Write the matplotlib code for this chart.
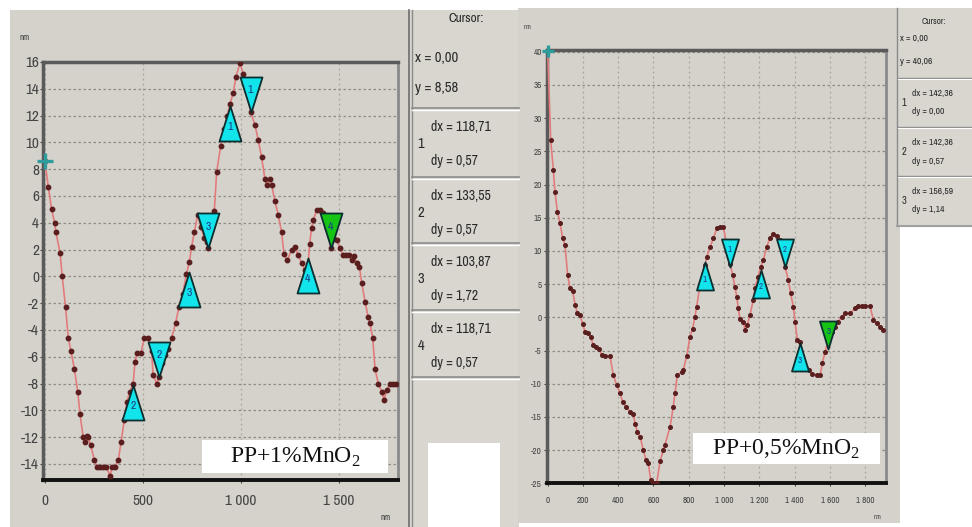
import matplotlib
matplotlib.use("Agg")
import matplotlib.pyplot as plt
from matplotlib import font_manager as fm
from matplotlib.path import Path
from matplotlib.patches import Rectangle
from matplotlib.ticker import FixedLocator, FuncFormatter

# ---- data ----
left_x = [0, 17, 34, 49, 56, 77, 88, 105, 119, 133, 150, 167, 179, 195, 204, 213,
          221, 233, 252, 265, 281, 297, 312, 332, 342, 358, 374, 388, 405, 418, 433,
          450, 459, 471, 490, 507, 527, 544, 552, 570, 583, 595, 612, 629, 646, 667,
          684, 703, 722, 737, 748, 762, 779, 795, 812, 825, 833, 848, 864, 876, 896,
          915, 930, 944, 961, 974, 995, 1012, 1030, 1049, 1071, 1088, 1105, 1122, 1131,
          1148, 1157, 1173, 1190, 1207, 1219, 1236, 1259, 1276, 1292, 1309, 1326, 1338,
          1350, 1360, 1369, 1386, 1403, 1420, 1440, 1459, 1476, 1488, 1505, 1520, 1535,
          1550, 1565, 1576, 1590, 1604, 1616, 1633, 1648, 1658, 1672, 1684, 1700, 1718,
          1730, 1743, 1760, 1775, 1790]
left_y = [8.58, 6.7, 5.0, 4.0, 3.3, 1.75, 0.0, -2.3, -4.6, -5.6, -6.9, -8.6, -10.3, -12.0, -12.4, -11.9,
          -12.0, -12.6, -13.7, -14.2, -14.2, -14.2, -14.2, -14.9, -14.2, -14.2, -13.7, -12.4, -10.7, -9.35, -8.6,
          -8.0, -6.4, -5.7, -5.7, -4.6, -4.6, -5.6, -7.4, -8.0, -7.5, -6.5, -5.9, -5.4, -4.6, -3.45,
          -2.26, -1.3, 0.2, 1.1, 2.2, 3.3, 4.6, 3.7, 2.9, 2.6, 2.1, 3.6, 4.9, 7.8, 9.7,
          11.0, 12.0, 12.9, 13.7, 14.9, 15.9, 15.1, 13.8, 12.3, 11.3, 10.2, 8.9, 7.3, 6.8,
          7.3, 6.8, 5.6, 4.6, 3.3, 1.7, 1.2, 2.0, 2.2, 1.6, 1.0, 0.5, 0.1,
          2.4, 3.6, 4.2, 4.95, 4.95, 4.7, 3.6, 2.1, 2.8, 2.7, 2.1, 1.6, 1.6,
          1.6, 1.2, 1.55, 1.0, 0.7, -0.5, -1.9, -3.0, -3.5, -4.6, -6.9, -8.0, -8.6,
          -9.2, -8.5, -8.0, -8.0, -8.0]

right_x = [0, 17, 32, 41, 55, 70, 85, 98, 113, 126, 142, 155, 168, 183, 198, 212, 230,
           244, 259, 274, 291, 306, 325, 353, 372, 391, 410, 425, 444, 467, 486, 495,
           508, 524, 542, 558, 571, 584, 595, 607, 618, 637, 656, 665, 694, 712, 722,
           735, 760, 769, 788, 807, 822, 835, 845, 864, 880, 893, 902, 921, 940, 959,
           977, 996, 1015, 1034, 1049, 1062, 1072, 1081, 1091, 1110, 1119, 1132, 1147,
           1166, 1176, 1192, 1208, 1223, 1242, 1261, 1280, 1299, 1318, 1332, 1346, 1365,
           1378, 1393, 1403, 1416, 1431, 1441, 1465, 1484, 1497, 1526, 1545, 1558, 1573,
           1592, 1611, 1630, 1648, 1668, 1686, 1715, 1743, 1762, 1781, 1800, 1828, 1847,
           1866, 1885, 1904]
right_y = [40.06, 26.7, 22.2, 18.9, 15.9, 14.2, 11.9, 10.9, 6.4, 4.4, 3.9, 1.9, 0.6, 0.35, -1.0, -2.2, -2.4,
           -3.0, -4.2, -4.5, -4.7, -5.7, -5.8, -5.8, -8.7, -10.2, -11.4, -12.7, -13.5, -14.2, -14.5, -16.0,
           -17.2, -18.0, -20.0, -21.5, -22.0, -24.5, -25.0, -25.0, -25.0, -21.7, -20.0, -19.2, -16.5, -13.5, -11.4,
           -8.7, -8.2, -7.9, -5.9, -2.9, -1.7, 0.1, 1.6, 4.9, 6.5, 7.9, 9.1, 10.6, 11.9, 13.4,
           13.6, 13.6, 11.0, 8.1, 6.4, 4.6, 3.1, 1.35, -0.3, -0.66, -1.9, -1.2, 0.35,
           2.6, 4.4, 6.0, 7.6, 8.6, 10.6, 12.0, 12.6, 12.3, 11.6, 9.8, 7.6, 5.6,
           3.6, 1.6, -0.7, -3.4, -3.7, -5.9, -7.7, -7.9, -8.5, -8.7, -8.7, -6.9, -5.2,
           -3.4, -2.2, -1.4, -0.66, 0.1, 0.6, 0.6, 1.35, 1.7, 1.7, 1.7, 1.7, -0.4,
           -0.9, -1.4, -1.9]

# cursor triangles (apex / tip on the profile)
left_tri_x = [944, 1049, 450, 583, 736, 833, 1340, 1459]
left_tri_y = [12.7, 12.3, -8.1, -7.5, 0.35, 2.1, 1.4, 2.1]
left_tri_up = [True, False, True, False, True, False, True, False]
left_tri_lab = ["1", "1", "2", "2", "3", "3", "4", "4"]
left_tri_green = [False] * 7 + [True]

right_tri_x = [893, 1034, 1210, 1346, 1431, 1592]
right_tri_y = [8.3, 7.6, 7.1, 7.6, -3.9, -4.7]
right_tri_up = [True, False, True, False, True, False]
right_tri_lab = ["1", "1", "2", "2", "3", "3"]
right_tri_green = [False] * 5 + [True]

left_xticks = [0, 500, 1000, 1500]
left_yticks = list(range(-14, 17, 2))
right_xticks = list(range(0, 1801, 200))
right_yticks = list(range(-25, 41, 5))

left_cursor = ["x = 0,00", "y = 8,58"]
left_rows = [("1", "dx = 118,71", "dy = 0,57"), ("2", "dx = 133,55", "dy = 0,57"),
             ("3", "dx = 103,87", "dy = 1,72"), ("4", "dx = 118,71", "dy = 0,57")]
right_cursor = ["x = 0,00", "y = 40,06"]
right_rows = [("1", "dx = 142,36", "dy = 0,00"), ("2", "dx = 142,36", "dy = 0,57"),
              ("3", "dx = 156,59", "dy = 1,14")]


# ---- fonts: want a narrow sans like the old windows UI ----
def pick_narrow():
    for f in fm.fontManager.ttflist:
        n = f.name.lower()
        if ("narrow" in n or "condensed" in n) and "mono" not in n and "serif" not in n:
            return f.name, f.stretch, 1.0
    for f in fm.fontManager.ttflist:
        if str(f.stretch) in ("condensed", "semi-condensed", "extra-condensed") \
                and "Mono" not in f.name and "Serif" not in f.name:
            return f.name, f.stretch, 1.0
    return "Roboto", "normal", 0.86


NARROW, STRETCH, FS = pick_narrow()
plt.rcParams["mathtext.fontset"] = "custom"
plt.rcParams["mathtext.rm"] = "Liberation Serif"

GRAY = "#D5D2CC"
LINE = "#E27C7C"
DOT = "#5A1E1E"
CYAN = "#12E4EC"
GREEN = "#16C416"
TEAL = "#2E9C9C"
TXT = "#2A2A2A"

W, H = 972, 527
fig = plt.figure(figsize=(W / 100, H / 100), dpi=100)


def ntext(ax, x, y, s, size, **kw):
    ax.text(x, y, s, fontsize=size * FS, family=NARROW, fontstretch=STRETCH,
            color=kw.pop("color", TXT), va="center", **kw)


# background panels drawn in pixel space
bg = fig.add_axes([0, 0, 1, 1], zorder=0)
bg.set_xlim(0, W)
bg.set_ylim(H, 0)
bg.axis("off")
bg.add_patch(Rectangle((10, 10), 400, 517, fc=GRAY, ec="none"))
bg.add_patch(Rectangle((410, 10), 109, 517, fc="#D9D6D0", ec="none"))
bg.add_patch(Rectangle((428, 443), 72, 84, fc="white", ec="none"))
bg.plot([409, 409], [10, 527], color="#6E6E6E", lw=1.2)
bg.plot([411.5, 411.5], [10, 527], color="#8A8A8A", lw=1)
for yy in [108, 177, 243, 310, 377]:
    bg.plot([412, 519], [yy, yy], color="#8C8C8C", lw=1.2)
    bg.plot([412, 519], [yy + 1.5, yy + 1.5], color="white", lw=1)
bg.add_patch(Rectangle((518, 8), 382, 515, fc=GRAY, ec="none"))
bg.add_patch(Rectangle((897, 8), 75, 218, fc="#D9D6D0", ec="none"))
bg.plot([897, 897], [8, 226], color="#8A8A8A", lw=1)
bg.plot([897, 972], [226, 226], color="#A0A0A0", lw=1.5)
for yy in [78, 127, 176]:
    bg.plot([898, 972], [yy, yy], color="#8C8C8C", lw=1)
    bg.plot([898, 972], [yy + 1.3, yy + 1.3], color="white", lw=0.8)

# cursor panels text
ntext(bg, 466, 19, "Cursor:", 9.5, ha="center")
ntext(bg, 415, 58, left_cursor[0], 10.5, ha="left")
ntext(bg, 415, 88, left_cursor[1], 10.5, ha="left")
for (num, dx, dy), top in zip(left_rows, [108, 177, 243, 310]):
    ntext(bg, 421, top + 36, num, 10.5, ha="center")
    ntext(bg, 431, top + 19, dx, 10, ha="left")
    ntext(bg, 431, top + 53, dy, 10, ha="left")

ntext(bg, 934, 21, "Cursor:", 6.5, ha="center")
ntext(bg, 900, 38, right_cursor[0], 6.8, ha="left")
ntext(bg, 900, 61, right_cursor[1], 6.8, ha="left")
for (num, dx, dy), top in zip(right_rows, [78, 127, 176]):
    ntext(bg, 904, top + 25, num, 7.5, ha="center")
    ntext(bg, 912, top + 15, dx, 6.8, ha="left")
    ntext(bg, 912, top + 34, dy, 6.8, ha="left")

# axis unit labels
ntext(bg, 25, 37, "nm", 6.5, ha="center", color="#444")
ntext(bg, 386, 517, "nm", 6.5, ha="center", color="#444")
ntext(bg, 528, 27, "nm", 5, ha="center", color="#444")
ntext(bg, 878, 517, "nm", 5, ha="center", color="#444")


def tri_path(w, h, up):
    if up:
        v = [(0, 0), (-w / 2, -h), (w / 2, -h), (0, 0)]
    else:
        v = [(0, 0), (-w / 2, h), (w / 2, h), (0, 0)]
    return Path(v, [Path.MOVETO, Path.LINETO, Path.LINETO, Path.CLOSEPOLY])


def style_axes(ax, xticks, yticks, lsize, xpad, ypad):
    ax.set_facecolor(GRAY)
    ax.xaxis.set_major_locator(FixedLocator(xticks))
    ax.yaxis.set_major_locator(FixedLocator(yticks))
    ax.xaxis.set_major_formatter(FuncFormatter(lambda v, p: f"{int(v):,}".replace(",", " ")))
    ax.yaxis.set_major_formatter(FuncFormatter(lambda v, p: f"{int(v)}"))
    ax.tick_params(axis="x", length=2, pad=xpad, labelsize=lsize * FS, colors="#444", width=0.8)
    ax.tick_params(axis="y", length=2, pad=ypad, labelsize=lsize * FS, colors="#444", width=0.8)
    for lab in ax.get_xticklabels() + ax.get_yticklabels():
        lab.set_family(NARROW)
        lab.set_fontstretch(STRETCH)
    ax.grid(True, axis="y", color="#8F8C86", linestyle=(0, (2, 2)), lw=0.9)
    ax.grid(True, axis="x", color="#A8A59F", linestyle=(0, (1.5, 2.5)), lw=0.9)
    ax.set_axisbelow(True)
    ax.spines["top"].set_color("#5A5A5A")
    ax.spines["left"].set_color("#5A5A5A")
    ax.spines["bottom"].set_color("#111111")
    ax.spines["right"].set_color("#8A8A8A")
    ax.spines["top"].set_linewidth(2.5)
    ax.spines["left"].set_linewidth(2.5)
    ax.spines["bottom"].set_linewidth(2.8)
    ax.spines["right"].set_linewidth(2)


def draw_profile(ax, xs, ys, tx, ty, tup, tlab, tgreen, tw, th, nsize, dot_ms):
    ax.plot(xs, ys, color=LINE, lw=1.2, zorder=3)
    ax.plot(xs, ys, linestyle="none", marker="o", ms=dot_ms, color=DOT, zorder=4)
    for x, y, up, lab, g in zip(tx, ty, tup, tlab, tgreen):
        ax.plot([x], [y], linestyle="none", marker=tri_path(tw, th, up), ms=1.44 * th,
                mfc=GREEN if g else CYAN, mec="#0B2F2F", mew=1.3, zorder=5, clip_on=False)
        off = -0.6 * th * 0.72 if up else 0.62 * th * 0.72
        ax.annotate(lab, (x, y), xytext=(0, off), textcoords="offset points",
                    ha="center", va="center", fontsize=nsize * FS, family=NARROW,
                    fontstretch=STRETCH, color="#1B3C8C", zorder=6)
    ax.plot([xs[0]], [ys[0]], marker="+", ms=12 if th > 30 else 9, mew=2.4,
            color=TEAL, zorder=6, clip_on=False)


# left profile
ax1 = fig.add_axes([43 / W, 1 - 480 / H, 355 / W, 418 / H], zorder=2)
style_axes(ax1, left_xticks, left_yticks, 11, 8, 0.8)
ax1.set_xlim(-10, 1801)
ax1.set_ylim(-15.2, 16)
draw_profile(ax1, left_x, left_y, left_tri_x, left_tri_y, left_tri_up, left_tri_lab,
             left_tri_green, 22, 35, 8.5, 3.2)

# right profile
ax2 = fig.add_axes([547 / W, 1 - 483.3 / H, 338.7 / W, 433.3 / H], zorder=2)
style_axes(ax2, right_xticks, right_yticks, 6.5, 7, 1.8)
ax2.set_xlim(-4, 1917)
ax2.set_ylim(-25, 40.26)
draw_profile(ax2, right_x, right_y, right_tri_x, right_tri_y, right_tri_up, right_tri_lab,
             right_tri_green, 17, 28, 6.5, 2.6)

# sample labels in white boxes
over = fig.add_axes([0, 0, 1, 1], zorder=10)
over.set_xlim(0, W)
over.set_ylim(H, 0)
over.axis("off")
over.add_patch(Rectangle((201.7, 440), 186.6, 33, fc="white", ec="none"))
over.text(295, 457.5, "PP+1%MnO$_\\mathrm{2}$", ha="center", va="center",
          fontsize=17, family="Liberation Serif", color="#111")
over.add_patch(Rectangle((693, 432.7), 187, 31.5, fc="white", ec="none"))
over.text(786.5, 449, "PP+0,5%MnO$_\\mathrm{2}$", ha="center", va="center",
          fontsize=17, family="Liberation Serif", color="#111")

fig.savefig("out.png", dpi=100, facecolor="white")
